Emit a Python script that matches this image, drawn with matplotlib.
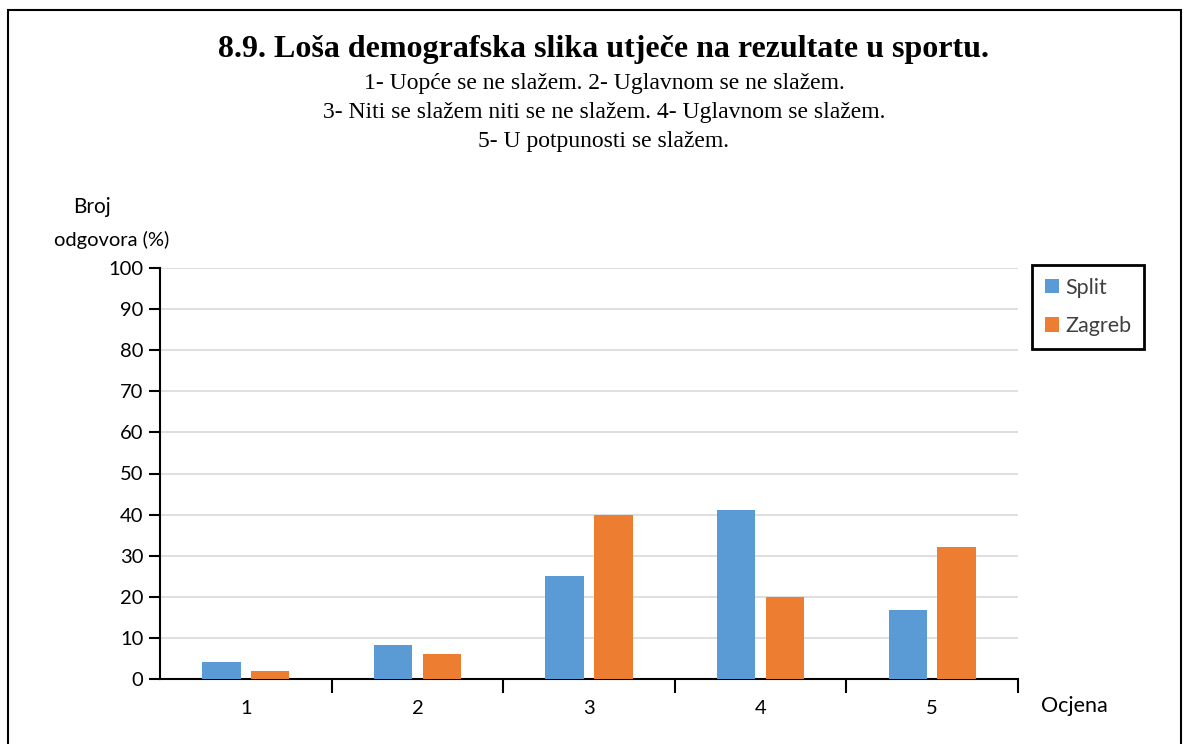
import numpy as np
import matplotlib.pyplot as plt
from matplotlib.patches import Rectangle

categories = ['1', '2', '3', '4', '5']
split = [4.2, 8.3, 25.0, 41.2, 16.7]
zagreb = [2.0, 6.0, 40.0, 20.0, 32.0]
series_names = ['Split', 'Zagreb']
colors = ['#5b9bd5', '#ed7d31']

title = "8.9. Loša demografska slika utječe na rezultate u sportu."
subtitle = ["1- Uopće se ne slažem. 2- Uglavnom se ne slažem.",
            "3- Niti se slažem niti se ne slažem. 4- Uglavnom se slažem.",
            "5- U potpunosti se slažem."]

plt.rcParams['font.family'] = ['Lato', 'DejaVu Sans']

fig = plt.figure(figsize=(11.9, 7.44), dpi=100)
ax = fig.add_axes([160 / 1190, 1 - 679 / 744, 858 / 1190, 411 / 744])

x = np.arange(len(categories))
w = 0.224
ax.bar(x - 0.142, split, w, color=colors[0], label=series_names[0], zorder=3)
ax.bar(x + 0.142, zagreb, w, color=colors[1], label=series_names[1], zorder=3)

ax.set_xlim(-0.5, len(categories) - 0.5)
ax.set_ylim(0, 100)
ax.set_yticks(np.arange(0, 101, 10))
ax.yaxis.grid(True, color='#d9d9d9', linewidth=1.2, zorder=0)
ax.set_xticks(x)
ax.set_xticklabels(categories)
ax.tick_params(axis='x', length=0, pad=15, labelsize=14.5)
ax.set_xticks(np.arange(0.5, len(categories) - 0.4, 1), minor=True)
ax.tick_params(axis='x', which='minor', length=10, width=1.5, direction='out')
ax.tick_params(axis='y', length=8, width=1.5, labelsize=14.5, pad=4)
for s in ['top', 'right']:
    ax.spines[s].set_visible(False)
for s in ['left', 'bottom']:
    ax.spines[s].set_linewidth(1.5)

leg = ax.legend(loc='upper left', bbox_to_anchor=((1032 - 160) / 858, 1.008),
                fontsize=15.5, frameon=True, fancybox=False, framealpha=1,
                handlelength=0.65, handleheight=0.65, handletextpad=0.3,
                labelspacing=0.85, borderpad=0.6, borderaxespad=0)
leg.get_frame().set_edgecolor('black')
leg.get_frame().set_linewidth(2)
for t in leg.get_texts():
    t.set_color('#404040')

fig.text(604 / 1190, 1 - 50 / 744, title, ha='center', va='center',
         family='Liberation Serif', fontweight='bold', fontsize=23)
for i, line in enumerate(subtitle):
    fig.text(604 / 1190, 1 - (83 + 29.5 * i) / 744, line, ha='center', va='center',
             family='Liberation Serif', fontsize=17)

fig.text(92 / 1190, 1 - 207 / 744, 'Broj', ha='center', va='center', fontsize=15)
fig.text(112 / 1190, 1 - 240 / 744, 'odgovora (%)', ha='center', va='center', fontsize=14.5)
fig.text(1074 / 1190, 1 - 706 / 744, 'Ocjena', ha='center', va='center', fontsize=15.5)

fig.patches.append(Rectangle((8 / 1190, -0.01), 1173 / 1190, 1 - 10 / 744 + 0.01,
                             transform=fig.transFigure, fill=False,
                             edgecolor='black', linewidth=1.5))

fig.savefig('out.png', dpi=100)
